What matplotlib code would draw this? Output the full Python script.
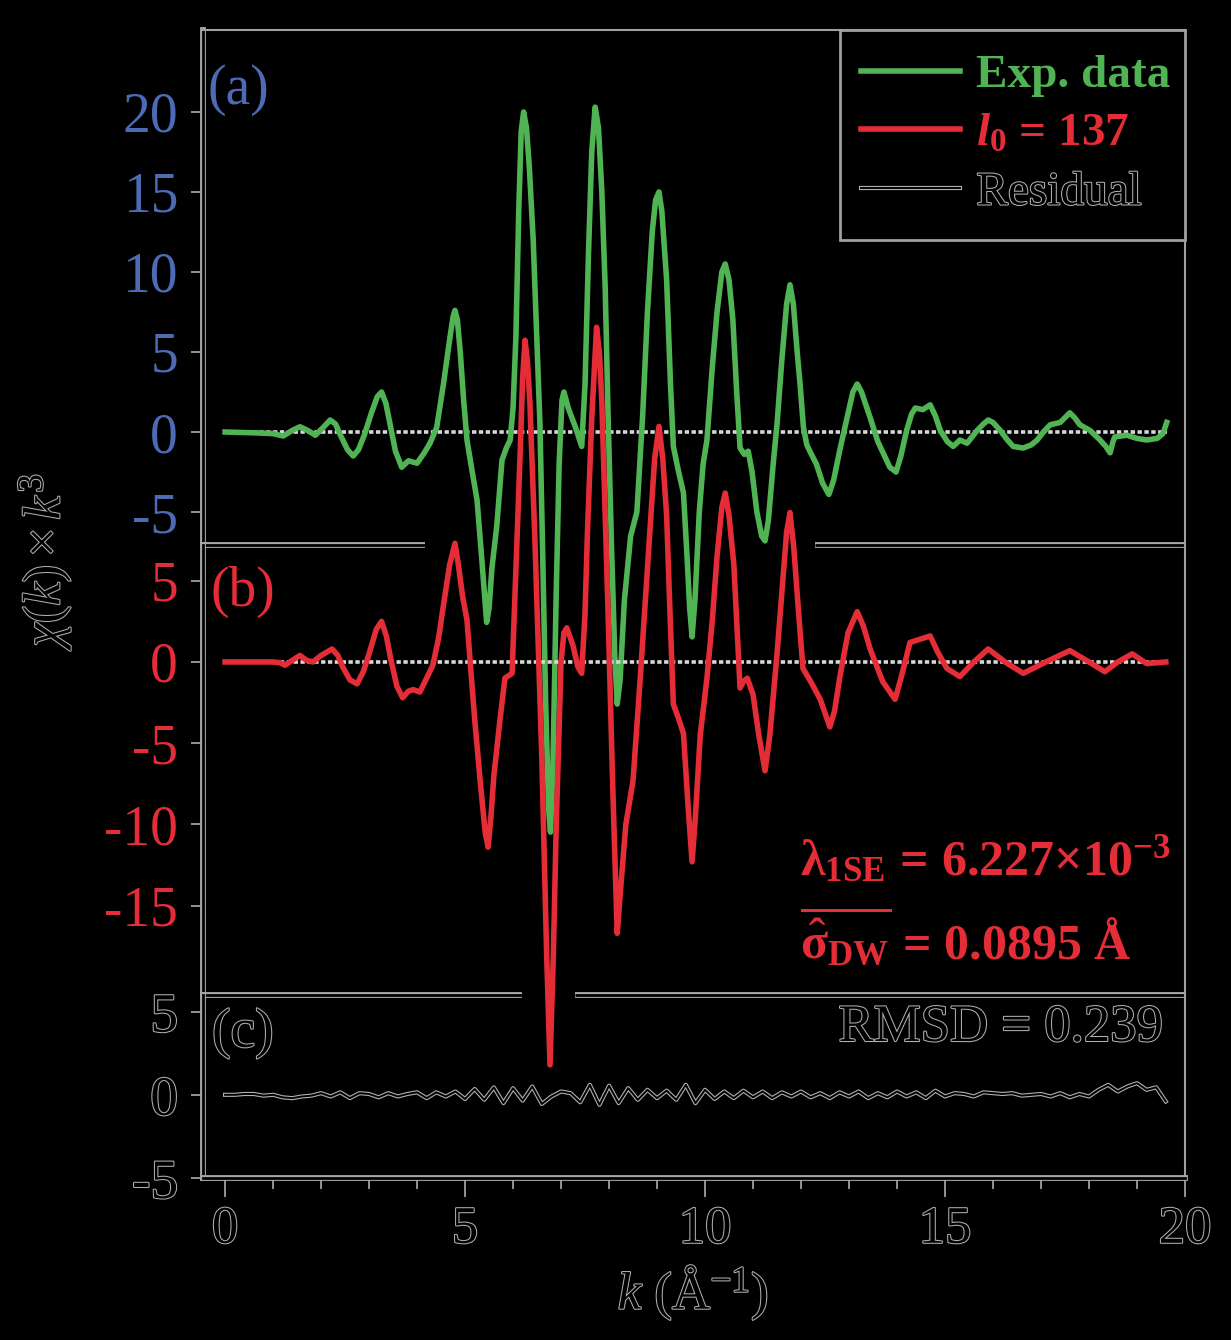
import numpy as np
import matplotlib
matplotlib.use("Agg")
import matplotlib.pyplot as plt
import matplotlib.patheffects as pe
from matplotlib.patches import Rectangle
from matplotlib.ticker import MultipleLocator

# ---------------- data ----------------
k_exp = [0.0, 0.6, 1.0, 1.21, 1.4, 1.56, 1.72, 1.88, 2.05, 2.19, 2.3, 2.42, 2.55, 2.67,
         2.78, 2.9, 3.05, 3.17, 3.26, 3.35, 3.45, 3.55, 3.68, 3.82, 4.0, 4.15, 4.27,
         4.41, 4.55, 4.68, 4.75, 4.79, 4.84, 4.9, 4.97, 5.04, 5.15, 5.25, 5.35, 5.45,
         5.5, 5.56, 5.66, 5.77, 5.86, 5.94, 6.0, 6.06, 6.12, 6.17, 6.22, 6.28, 6.34,
         6.42, 6.5, 6.56, 6.62, 6.68, 6.74, 6.78, 6.83, 6.9, 6.96, 7.02, 7.06, 7.15,
         7.3, 7.43, 7.5, 7.57, 7.64, 7.71, 7.78, 7.85, 7.92, 7.98, 8.05, 8.12, 8.17,
         8.23, 8.32, 8.45, 8.58, 8.7, 8.8, 8.9, 8.97, 9.04, 9.1, 9.2, 9.28, 9.34,
         9.45, 9.55, 9.62, 9.68, 9.73, 9.79, 9.88, 9.96, 10.04, 10.15, 10.25, 10.35,
         10.42, 10.5, 10.58, 10.66, 10.73, 10.82, 10.9, 10.98, 11.08, 11.18, 11.25,
         11.32, 11.42, 11.5, 11.6, 11.7, 11.77, 11.84, 11.92, 11.98, 12.05, 12.12,
         12.2, 12.32, 12.45, 12.58, 12.68, 12.81, 12.96, 13.08, 13.17, 13.26, 13.44,
         13.6, 13.71, 13.85, 13.98, 14.08, 14.2, 14.3, 14.38, 14.54, 14.69, 14.8,
         14.9, 15.05, 15.17, 15.31, 15.46, 15.67, 15.8, 15.9, 16.0, 16.15, 16.3,
         16.42, 16.63, 16.8, 16.92, 17.05, 17.19, 17.4, 17.6, 17.7, 17.81, 18.02,
         18.23, 18.35, 18.44, 18.5, 18.54, 18.79, 19.0, 19.2, 19.42, 19.54, 19.62]
chi_exp = [0.0, -0.05, -0.1, -0.25, 0.1, 0.33, 0.1, -0.2, 0.3, 0.75, 0.5, -0.3, -1.1, -1.5,
           -1.1, -0.2, 1.2, 2.2, 2.5, 1.8, 0.3, -1.2, -2.2, -1.8, -1.95, -1.3, -0.7,
           0.3, 3.0, 5.8, 7.2, 7.6, 7.0, 5.0, 2.0, -0.5, -2.5, -4.25, -8.0, -11.9,
           -11.0, -8.5, -5.9, -1.75, -1.0, -0.5, 1.5, 6.0, 14.0, 18.8, 20.0, 19.0, 16.5,
           12.0, 5.5, 0.5, -8.0, -17.0, -23.5, -25.0, -21.0, -10.0, -2.0, 2.0, 2.5, 1.5,
           0.3, -0.9, 3.0, 11.0, 17.5, 20.3, 19.0, 15.0, 9.0, 1.0, -7.0, -14.0, -17.0,
           -15.5, -10.5, -6.5, -5.0, 1.0, 7.5, 12.5, 14.5, 15.0, 13.8, 9.5, 3.0, -0.9,
           -2.5, -3.8, -7.5, -11.0, -12.8, -10.5, -5.0, -2.0, -0.5, 4.0, 7.5, 10.0,
           10.5, 9.5, 7.0, 2.5, -1.0, -1.4, -1.2, -2.5, -5.0, -6.5, -6.8,
           -5.5, -2.0, 0.5, 4.5, 8.0, 9.2, 8.0, 5.0, 3.0, 0.3, -0.8,
           -1.3, -2.0, -3.2, -3.9, -3.0, -1.1, 0.9, 2.5, 3.0, 2.5, 0.9,
           -0.6, -1.3, -2.2, -2.5, -1.5, 0.1, 1.1, 1.5, 1.4, 1.7, 1.0,
           0.1, -0.6, -0.9, -0.5, -0.7, 0.1, 0.5, 0.75, 0.6, 0.1, -0.5,
           -0.9, -1.0, -0.8, -0.5, 0.0, 0.45, 0.6, 1.2, 0.9, 0.45, 0.1,
           -0.5, -0.9, -1.3, -0.6, -0.3, -0.2, -0.4, -0.5, -0.4, -0.1, 0.6]

k_fit = [0.0, 1.0, 1.15, 1.25, 1.4, 1.56, 1.7, 1.83, 2.0, 2.23, 2.35, 2.45, 2.6, 2.75,
         2.88, 3.0, 3.15, 3.26, 3.36, 3.45, 3.58, 3.7, 3.82, 3.92, 4.06, 4.2, 4.33,
         4.45, 4.55, 4.68, 4.79, 4.86, 4.95, 5.04, 5.12, 5.2, 5.32, 5.42, 5.48, 5.54,
         5.6, 5.73, 5.83, 5.98, 6.04, 6.1, 6.15, 6.2, 6.25, 6.3, 6.35, 6.45, 6.6,
         6.7, 6.77, 6.84, 6.9, 7.0, 7.06, 7.12, 7.25, 7.35, 7.43, 7.5, 7.55, 7.64,
         7.74, 7.8, 7.85, 7.92, 7.98, 8.08, 8.17, 8.24, 8.35, 8.5, 8.65, 8.75, 8.85,
         8.95, 9.04, 9.12, 9.2, 9.27, 9.34, 9.45, 9.55, 9.65, 9.73, 9.8, 9.9, 10.04,
         10.15, 10.25, 10.35, 10.42, 10.5, 10.6, 10.73, 10.8, 10.88, 11.0, 11.12,
         11.25, 11.35, 11.5, 11.62, 11.7, 11.77, 11.85, 11.95, 12.04, 12.2, 12.4,
         12.6, 12.7, 12.81, 12.98, 13.17, 13.3, 13.44, 13.7, 13.96, 14.1, 14.27,
         14.48, 14.69, 14.85, 15.04, 15.31, 15.6, 15.9, 16.25, 16.63, 17.1, 17.6,
         18.0, 18.33, 18.6, 18.9, 19.2, 19.6]
chi_fit = [0.0, 0.0, -0.05, -0.2, 0.1, 0.4, 0.1, 0.0, 0.4, 0.8, 0.4, -0.3, -1.1, -1.35,
           -0.6, 0.5, 2.0, 2.5, 1.6, 0.2, -1.5, -2.2, -1.8, -1.7, -1.85, -1.0, -0.2,
           1.5, 3.5, 6.0, 7.3, 6.0, 4.0, 2.6, -0.5, -3.5, -7.5, -10.5, -11.4, -9.5,
           -7.0, -3.5, -1.0, -0.7, 4.2, 9.0, 13.0, 17.5, 19.8, 18.5, 16.0, 8.0, -6.0,
           -18.0, -24.8, -18.0, -10.0, 0.0, 1.8, 2.1, 1.0, -0.3, -0.7, 3.0, 8.0, 15.0,
           20.6, 19.0, 16.0, 9.0, 3.0, -8.0, -16.7, -14.0, -10.0, -7.3, -1.0, 3.5, 8.0,
           12.5, 14.5, 12.5, 9.0, 3.0, -2.6, -3.5, -4.4, -9.0, -12.3, -9.5, -4.5, -1.0,
           2.5, 6.5, 9.5, 10.4, 9.0, 6.0, -1.6, -1.2, -1.0, -2.0, -4.5,
           -6.7, -4.5, 0.5, 5.0, 8.0, 9.2, 7.0, 3.0, -0.4, -1.2, -2.3,
           -4.0, -3.0, -0.9, 1.8, 3.1, 2.2, 0.8, -1.2, -2.3, -0.8, 1.2,
           1.4, 1.6, 0.6, -0.4, -0.9, 0.0, 0.8, 0.0, -0.7, 0.0, 0.7,
           0.0, -0.6, 0.0, 0.5, -0.1, 0.0]

res_values = [0.0, 0.0, 0.05, 0.05, -0.05, 0.0, -0.15, -0.2, -0.1, -0.05,
              0.1, -0.1, 0.15, -0.2, 0.1, 0.05, -0.15, 0.1, -0.1, 0.05,
              0.15, -0.2, 0.15, -0.1, 0.2, -0.25, 0.35, -0.3, 0.45, -0.5,
              0.4, -0.35, 0.5, -0.55, -0.1, 0.2, 0.1, -0.45, 0.6, -0.6,
              0.55, -0.5, 0.4, -0.3, 0.3, -0.2, 0.25, -0.3, 0.6, -0.5,
              0.3, -0.25, 0.2, -0.2, 0.25, -0.15, 0.2, -0.2, 0.15, -0.1,
              0.2, -0.15, 0.1, -0.2, 0.15, -0.1, 0.2, -0.2, 0.1, -0.15,
              0.2, -0.1, 0.15, -0.2, 0.25, -0.1, 0.1, 0.05, -0.1, 0.15,
              0.1, 0.05, 0.1, -0.05, 0.0, 0.05, -0.1, 0.1, -0.15, 0.05,
              -0.1, 0.3, 0.6, 0.2, 0.5, 0.7, 0.3, 0.45, -0.4]
k_res = np.round(np.arange(len(res_values)) * 0.2, 1)

ticks_a = [-5, 0, 5, 10, 15, 20]
ticks_b = [-15, -10, -5, 0, 5]
ticks_c = [-5, 0, 5]
ticks_x = [0, 5, 10, 15, 20]

legend_labels = ["Exp. data", r"$\mathbfit{l}_{\mathbf{0}}$ = 137", "Residual"]
panel_labels = ["(a)", "(b)", "(c)"]
lambda_text = r"$\mathbf{\lambda}_{\mathbf{1SE}}\mathbf{\,=\,6.227}\mathbf{\times}\mathbf{10}^{\mathbf{-3}}$"
sigma_text = r"$\overline{\hat{\mathbf{\sigma}}_{\mathbf{DW}}}\mathbf{\,=\,0.0895\ \AA}$"
rmsd_text = "RMSD = 0.239"
xlabel = r"$k$ (Å$^{-1}$)"
ylabel = r"$\chi(k)\times k^{3}$"

# ---------------- style ----------------
plt.rcParams.update({
    "font.family": ["Liberation Serif", "DejaVu Serif"],
    "mathtext.fontset": "custom",
    "mathtext.rm": "Liberation Serif",
    "mathtext.it": "Liberation Serif:italic",
    "mathtext.bf": "Liberation Serif:bold",
    "mathtext.bfit": "Liberation Serif:italic:bold",
    "axes.unicode_minus": False,
})

GREEN = "#50b455"
RED = "#e52d38"
BLUE = "#4d6bb5"
GRAY = "#a0a0a0"
outline_txt = [pe.withStroke(linewidth=1.5, foreground="#b0b0b0")]
outline_line = [pe.Stroke(linewidth=4.2, foreground="#a8a8a8"), pe.Stroke(linewidth=2.0, foreground="black")]

W, H = 1231, 1340
fig = plt.figure(figsize=(W / 100, H / 100), dpi=100, facecolor="black")


def px_axes(x0, y0, x1, y1):
    ax = fig.add_axes([x0 / W, 1 - y1 / H, (x1 - x0) / W, (y1 - y0) / H])
    ax.patch.set_visible(False)
    return ax


ax_a = px_axes(203, 30, 1185, 545)
ax_b = px_axes(203, 545, 1185, 995)
ax_c = px_axes(203, 995, 1185, 1178)

XLIM = (-0.46, 20.0)
ax_a.set_ylim(-7.06, 25.12)
ax_b.set_ylim(-20.5, 7.2)
ax_c.set_ylim(-5.0, 6.0)

for ax, yt, col in [(ax_a, ticks_a, BLUE), (ax_b, ticks_b, RED), (ax_c, ticks_c, "black")]:
    ax.set_xlim(*XLIM)
    ax.set_yticks(yt)
    ax.set_yticklabels([str(t) for t in yt])
    ax.tick_params(axis="y", direction="out", length=9, width=1.3, color=GRAY,
                   labelsize=40, labelcolor=col, pad=9)
    for s in ["top", "bottom"]:
        ax.spines[s].set_visible(False)
    ax.spines["right"].set_color(GRAY)
    ax.spines["right"].set_linewidth(1.5)
    ax.spines["left"].set_color("black")
    ax.spines["left"].set_linewidth(2.0)
    ax.spines["left"].set_path_effects(outline_line)
    if ax is not ax_c:
        ax.set_xticks([])

ax_a.spines["top"].set_visible(True)
ax_a.spines["top"].set_color(GRAY)
ax_a.spines["top"].set_linewidth(1.5)

for lbl in ax_c.get_yticklabels():
    lbl.set_path_effects(outline_txt)

ax_c.spines["bottom"].set_visible(True)
ax_c.spines["bottom"].set_color("black")
ax_c.spines["bottom"].set_linewidth(2.0)
ax_c.spines["bottom"].set_path_effects(outline_line)
ax_c.set_xticks(ticks_x)
ax_c.set_xticklabels([str(t) for t in ticks_x])
ax_c.xaxis.set_minor_locator(MultipleLocator(1))
ax_c.tick_params(axis="x", which="major", direction="out", length=14, width=1.3,
                 color=GRAY, labelsize=38, labelcolor="black", pad=6)
ax_c.tick_params(axis="x", which="minor", direction="out", length=8, width=1.3, color=GRAY)
for lbl in ax_c.get_xticklabels():
    lbl.set_path_effects(outline_txt)

# separators between panels (with the gaps of the original)
sep_kw = dict(color="black", lw=2.0, path_effects=outline_line, clip_on=False,
              solid_capstyle="butt")
tb = ax_b.get_xaxis_transform()
ax_b.plot([XLIM[0], 4.17], [1, 1], transform=tb, **sep_kw)
ax_b.plot([12.3, XLIM[1]], [1, 1], transform=tb, **sep_kw)
tc = ax_c.get_xaxis_transform()
ax_c.plot([XLIM[0], 6.19], [1, 1], transform=tc, **sep_kw)
ax_c.plot([7.29, XLIM[1]], [1, 1], transform=tc, **sep_kw)

# zero lines
dot_kw = dict(color="#d8d8d8", lw=2.6, linestyle=(0, (1.2, 0.7)), zorder=1)
ax_a.plot([k_exp[0], k_exp[-1]], [0, 0], **dot_kw)
ax_b.plot([k_fit[0], k_fit[-1]], [0, 0], **dot_kw)

# curves
l_exp, = ax_a.plot(k_exp, chi_exp, color=GREEN, lw=4.0, clip_on=False, zorder=3,
                   solid_joinstyle="round")
l_fit, = ax_b.plot(k_fit, chi_fit, color=RED, lw=4.0, clip_on=False, zorder=3,
                   solid_joinstyle="round")
l_res, = ax_c.plot(k_res, res_values, color="black", lw=1.4, clip_on=False, zorder=3,
                   path_effects=[pe.Stroke(linewidth=3.0, foreground="#b0b0b0"), pe.Normal()])

# legend (frame drawn separately so that its padding matches the original)
leg_box = Rectangle((840 / W, 1 - 240 / H), 345 / W, 210 / H, transform=fig.transFigure,
                    facecolor="black", edgecolor=GRAY, lw=2.0, zorder=4, clip_on=False)
ax_a.add_patch(leg_box)
leg = ax_a.legend([l_exp, l_fit, l_res], legend_labels, loc="upper right",
                  bbox_to_anchor=(1.0, 1.0 - 10 / 515), borderaxespad=0.0,
                  prop={"weight": "bold", "size": 34}, handlelength=2.1,
                  handletextpad=0.35, labelspacing=0.33, borderpad=0.3,
                  frameon=False)
leg.set_zorder(6)
txts = leg.get_texts()
txts[0].set_color(GREEN)
txts[1].set_color(RED)
txts[2].set_color("black")
txts[2].set_fontweight("normal")
txts[2].set_path_effects(outline_txt)

# panel labels
fig.text(208 / W, 1 - 90 / H, panel_labels[0], color=BLUE, fontsize=40, ha="left", va="center")
fig.text(210 / W, 1 - 592 / H, panel_labels[1], color=RED, fontsize=40, ha="left", va="center")
fig.text(212 / W, 1 - 1033 / H, panel_labels[2], color="black", fontsize=40, ha="left",
         va="center", path_effects=outline_txt)

# annotations
fig.text(800 / W, 1 - 875 / H, lambda_text, color=RED, fontsize=36, ha="left", va="baseline")
fig.text(800 / W, 1 - 958 / H, sigma_text, color=RED, fontsize=36, ha="left", va="baseline")
fig.text(1163 / W, 1 - 1028 / H, rmsd_text, color="black", fontsize=38, ha="right",
         va="center", path_effects=outline_txt)

# axis labels
fig.text(693 / W, 1 - 1293 / H, xlabel, color="black", fontsize=38, ha="center", va="center",
         path_effects=outline_txt)
fig.text(45 / W, 1 - 558 / H, ylabel, color="black", fontsize=38, ha="center", va="center",
         rotation=90, path_effects=outline_txt)

fig.savefig("out.png", dpi=100, facecolor="black")
